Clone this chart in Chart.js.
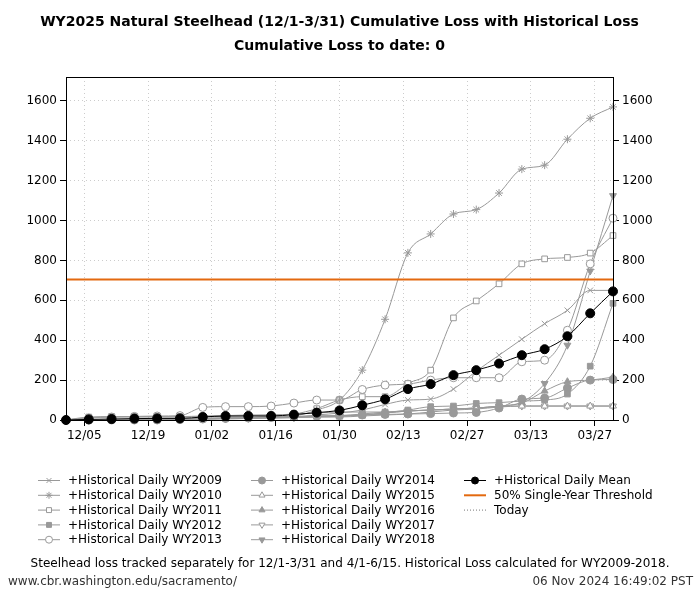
<!DOCTYPE html>
<html><head><meta charset="utf-8">
<script src="https://cdn.jsdelivr.net/npm/chart.js@4.4.1/dist/chart.umd.min.js"></script>
<style>html,body{margin:0;padding:0;background:#fff;}#wrap{width:700px;height:600px;position:relative;}</style>
</head><body><div id="wrap"><canvas id="c" width="700" height="600"></canvas></div>
<script>
// day offsets from 12/1 (every 5 days, 12/1 .. 3/31)
const days = [0,5,10,15,20,25,30,35,40,45,50,55,60,65,70,75,80,85,90,95,100,105,110,115,120];
const tickDays = [4,18,32,46,60,74,88,102,116];
const tickLabels = ['12/05','12/19','01/02','01/16','01/30','02/13','02/27','03/13','03/27'];
const yTicks = [0,200,400,600,800,1000,1200,1400,1600];

const wy2009 = [0,0,2,3,5,5,8,10,10,12,15,25,35,50,78,100,105,155,245,325,405,483,550,650,650];
const wy2010 = [0,0,0,0,2,5,8,10,12,15,20,50,100,250,505,838,933,1033,1055,1138,1258,1278,1408,1513,1570];
const wy2011 = [0,12,15,15,15,15,18,20,22,25,30,57,100,117,117,183,250,512,597,683,783,808,815,837,925];
const wy2012 = [0,15,17,17,17,17,20,22,25,25,30,35,40,40,40,50,67,70,83,87,95,100,130,270,585];
const wy2013 = [0,10,15,18,20,22,63,67,67,70,85,100,100,153,175,180,200,212,212,212,292,300,450,783,1012];
const wy2014 = [0,0,0,0,0,2,5,8,10,12,15,20,22,25,28,30,32,35,38,60,105,110,160,200,203];
const wy2015 = [0,0,0,2,3,5,5,8,10,10,12,15,15,20,25,30,40,50,55,65,70,70,70,70,70];
const wy2016 = [0,0,0,2,3,5,8,10,12,15,18,20,22,30,40,45,50,55,60,70,85,145,192,200,215];
const wy2017 = [0,0,0,0,2,3,5,5,8,10,12,15,18,25,35,45,50,55,60,68,70,70,70,70,70];
const wy2018 = [0,0,0,0,2,3,5,8,10,12,15,18,20,25,35,45,50,55,60,70,90,183,375,747,1125];
const meanLoss = [0,3,5,7,8,8,15,20,20,20,27,37,48,74,104,155,180,225,250,283,325,355,420,535,645];
const threshold = 705;

const GRAY = '#999999';
const ORANGE = '#e3690f';
const pts = arr => days.map((d,i)=>({x:d,y:arr[i]}));

function hist(label, arr, style, filled, rot) {
  return {label, data: pts(arr), borderColor: GRAY, borderWidth: 1,
    backgroundColor: filled ? GRAY : '#ffffff', pointBorderColor: GRAY,
    pointBackgroundColor: filled ? GRAY : '#ffffff',
    pointStyle: style, pointRotation: rot||0, pointRadius: 4, pointBorderWidth: 1,
    cubicInterpolationMode: 'monotone', order: 5, clip: false, _filled: filled};
}
const datasets = [
  {label:'+Historical Daily Mean', data: pts(meanLoss), borderColor:'#000', borderWidth:1,
   backgroundColor:'#000', pointBackgroundColor:'#000', pointBorderColor:'#000', pointStyle:'circle',
   pointRadius:4.5, pointBorderWidth:1, cubicInterpolationMode:'monotone', order:0, clip:false, _filled:true},
  {label:'50% Single-Year Threshold', data:[{x:0,y:threshold},{x:120,y:threshold}], borderColor:ORANGE,
   borderWidth:2, pointRadius:0, order:1, _noPoint:true},
  {label:'Today', data:[], borderColor:'#777', borderWidth:1, borderDash:[1,2], pointRadius:0, order:1, _noPoint:true},
  hist('+Historical Daily WY2009', wy2009, 'crossRot', false),
  hist('+Historical Daily WY2010', wy2010, 'star', false),
  hist('+Historical Daily WY2011', wy2011, 'rect', false),
  hist('+Historical Daily WY2012', wy2012, 'rect', true),
  hist('+Historical Daily WY2013', wy2013, 'circle', false),
  hist('+Historical Daily WY2014', wy2014, 'circle', true),
  hist('+Historical Daily WY2015', wy2015, 'triangle', false),
  hist('+Historical Daily WY2016', wy2016, 'triangle', true),
  hist('+Historical Daily WY2017', wy2017, 'triangle', false, 180),
  hist('+Historical Daily WY2018', wy2018, 'triangle', true, 180)
];

const FONT = '"DejaVu Sans", sans-serif';

const deco = {
  id:'deco',
  afterDraw(chart){
    const ctx = chart.ctx, a = chart.chartArea;
    ctx.save();
    ctx.setLineDash([]);
    ctx.strokeStyle = '#000'; ctx.lineWidth = 1;
    ctx.strokeRect(a.left+0.5, a.top+0.5, a.right-a.left, a.bottom-a.top);
    const cx = (a.left + a.right)/2;
    ctx.fillStyle = '#000'; ctx.textAlign='center'; ctx.textBaseline='middle';
    ctx.font = 'bold 14px ' + FONT;
    ctx.fillText('WY2025 Natural Steelhead (12/1-3/31) Cumulative Loss with Historical Loss', cx, 22);
    ctx.fillText('Cumulative Loss to date: 0', cx, 46);
    const cols = [
      [3,4,5,6,7],
      [8,9,10,11,12],
      [0,1,2]
    ];
    const colX = [38, 251, 464];
    const rowY = [480, 494.8, 509.6, 524.4, 539.2];
    ctx.font = '12px ' + FONT; ctx.textAlign='left';
    cols.forEach((col,ci)=>{
      col.forEach((di,ri)=>{
        const ds = chart.data.datasets[di];
        const x0 = colX[ci], y = rowY[ri];
        ctx.save();
        ctx.strokeStyle = ds.borderColor; ctx.lineWidth = ds.borderWidth;
        ctx.setLineDash(ds.borderDash || []);
        ctx.beginPath(); ctx.moveTo(x0, y+0.5); ctx.lineTo(x0+22, y+0.5); ctx.stroke();
        ctx.setLineDash([]);
        if (!ds._noPoint) {
          ctx.fillStyle = ds.pointBackgroundColor; ctx.strokeStyle = ds.pointBorderColor;
          ctx.lineWidth = 1;
          Chart.helpers.drawPoint(ctx, {pointStyle: ds.pointStyle, rotation: ds.pointRotation||0,
            radius: 3.5, borderWidth: 1}, x0+11, y+0.5);
        }
        ctx.restore();
        ctx.fillStyle='#000';
        ctx.fillText(ds.label, x0+30, y+1);
      });
    });
    ctx.textAlign='center';
    ctx.fillText('Steelhead loss tracked separately for 12/1-3/31 and 4/1-6/15. Historical Loss calculated for WY2009-2018.', 350, 564);
    ctx.fillStyle='#333';
    ctx.textAlign='left';
    ctx.fillText('www.cbr.washington.edu/sacramento/', 8, 582);
    ctx.textAlign='right';
    ctx.fillText('06 Nov 2024 16:49:02 PST', 693, 582);
    ctx.restore();
  }
};

const gridCommon = {color:'#cccccc', lineWidth:1, tickLength:6, tickColor:'#000', tickWidth:1, tickBorderDash:[]};

new Chart(document.getElementById('c'), {
  type:'line',
  data:{datasets},
  options:{
    responsive:false, animation:false, devicePixelRatio:1,
    layout:{padding:{top:77,left:0,right:0,bottom:0}},
    plugins:{legend:{display:false}, title:{display:false}, tooltip:{enabled:false}},
    elements:{line:{tension:0}},
    scales:{
      x:{type:'linear', min:0, max:120,
        afterBuildTicks(s){ s.ticks = tickDays.map(v=>({value:v})); },
        afterFit(s){ s.height = 180; },
        ticks:{font:{family:FONT,size:12}, color:'#000', padding:3, maxRotation:0, autoSkip:false,
          callback(v){ const i = tickDays.indexOf(v); return i>=0 ? tickLabels[i] : ''; }},
        grid:Object.assign({}, gridCommon),
        border:{display:false, dash:[1,3]}
      },
      y:{type:'linear', position:'left', min:0, max:1720,
        afterBuildTicks(s){ s.ticks = yTicks.map(v=>({value:v})); },
        afterFit(s){ s.width = 66; },
        ticks:{font:{family:FONT,size:12}, color:'#000', padding:3, callback(v){ return String(v); }},
        grid:Object.assign({}, gridCommon),
        border:{display:false, dash:[1,3]}
      },
      y2:{type:'linear', position:'right', min:0, max:1720,
        afterBuildTicks(s){ s.ticks = yTicks.map(v=>({value:v})); },
        afterFit(s){ s.width = 87; },
        ticks:{font:{family:FONT,size:12}, color:'#000', padding:3, callback(v){ return String(v); }},
        grid:Object.assign({}, gridCommon, {drawOnChartArea:false}),
        border:{display:false}
      }
    }
  },
  plugins:[deco]
});
</script></body></html>
